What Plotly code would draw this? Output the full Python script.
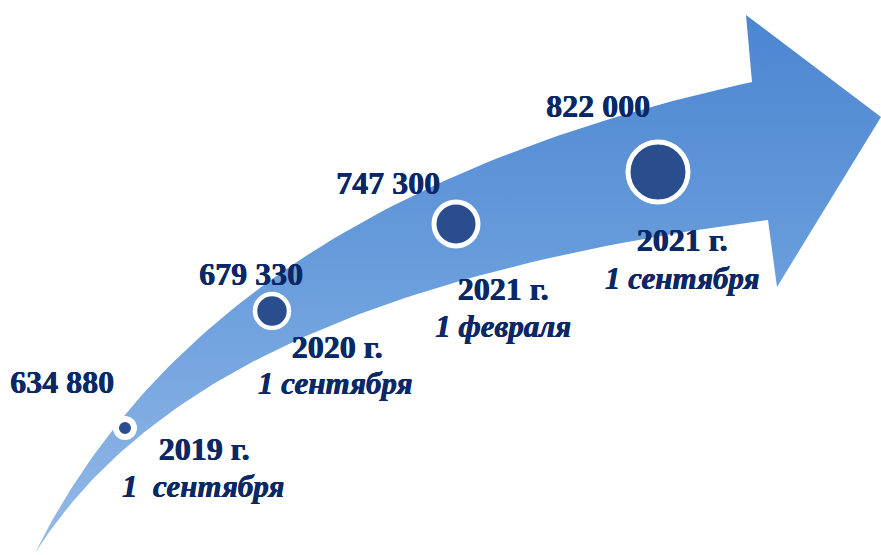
import numpy as np
import plotly.graph_objects as go

# ---- data ----
values = ["634 880", "679 330", "747 300", "822 000"]
years = ["2019 г.", "2020 г.", "2021 г.", "2021 г."]
dates = ["1  сентября", "1 сентября", "1 февраля", "1 сентября"]

# ---- layout constants (pixel space) ----
W, H = 881, 555
pt_x = [125, 272, 456, 658]
pt_y = [428, 311, 224, 172]
pt_size = [18, 34, 44, 60]
pt_line = [6, 4.5, 5, 5]
val_xy = [(62, 385), (251, 277), (388, 186), (598, 109)]
year_xy = [(204, 452), (337, 350), (503, 292), (682, 243)]
date_xy = [(203, 489), (335, 386), (503, 329), (682, 281)]

TXT = "#0b2866"
DOT = "#2a4e8d"
SH = f"0.6px 0 0 {TXT}, 0 0.4px 0 {TXT}"


def bez(p, n=80):
    t = np.linspace(0, 1, n)[:, None]
    p = np.array(p, dtype=float)
    if len(p) == 3:
        return (1 - t) ** 2 * p[0] + 2 * (1 - t) * t * p[1] + t ** 2 * p[2]
    return ((1 - t) ** 3 * p[0] + 3 * (1 - t) ** 2 * t * p[1]
            + 3 * (1 - t) * t ** 2 * p[2] + t ** 3 * p[3])


top = bez([(35, 553), (210, 200), (752, 82)])
bot = bez([(35, 553), (120, 420), (300, 280), (768, 220)])[::-1]
head = np.array([(746, 15), (881, 117), (777, 287)])
poly = np.vstack([top, head, bot])

fig = go.Figure()
fig.add_trace(go.Scatter(
    x=poly[:, 0], y=poly[:, 1], mode="lines", fill="toself",
    line=dict(width=0, color="rgba(0,0,0,0)"),
    fillgradient=dict(type="vertical",
                      colorscale=[[0, "#4c86d1"], [0.5, "#6a9edc"], [1, "#95bae8"]],
                      start=15, stop=553),
    hoverinfo="skip", showlegend=False))

fig.add_trace(go.Scatter(
    x=pt_x, y=pt_y, mode="markers", opacity=1,
    marker=dict(size=pt_size, color=DOT, opacity=1,
                line=dict(color="#ffffff", width=pt_line)),
    hoverinfo="skip", showlegend=False))

font_b = dict(family="Liberation Serif", size=32, color=TXT, weight="bold", shadow=SH)
fig.add_trace(go.Scatter(
    x=[p[0] for p in val_xy], y=[p[1] for p in val_xy], mode="text",
    text=values, textfont=font_b, hoverinfo="skip", showlegend=False))
fig.add_trace(go.Scatter(
    x=[p[0] for p in year_xy], y=[p[1] for p in year_xy], mode="text",
    text=years, textfont=font_b, hoverinfo="skip", showlegend=False))
fig.add_trace(go.Scatter(
    x=[p[0] for p in date_xy], y=[p[1] for p in date_xy], mode="text",
    text=[v.replace('  ', '\u00a0 ') for v in dates],
    textfont=dict(family="Liberation Serif", size=31, color=TXT,
                  weight="bold", style="italic", shadow=SH),
    hoverinfo="skip", showlegend=False))

fig.update_layout(
    width=W, height=H, margin=dict(l=0, r=0, t=0, b=0),
    paper_bgcolor="white", plot_bgcolor="white",
    xaxis=dict(range=[0, W], visible=False, fixedrange=True),
    yaxis=dict(range=[H, 0], visible=False, fixedrange=True),
)
fig.write_html("out.html", config={"displayModeBar": False},
               post_script="document.body.style.margin='0';document.body.style.overflow='hidden';")
